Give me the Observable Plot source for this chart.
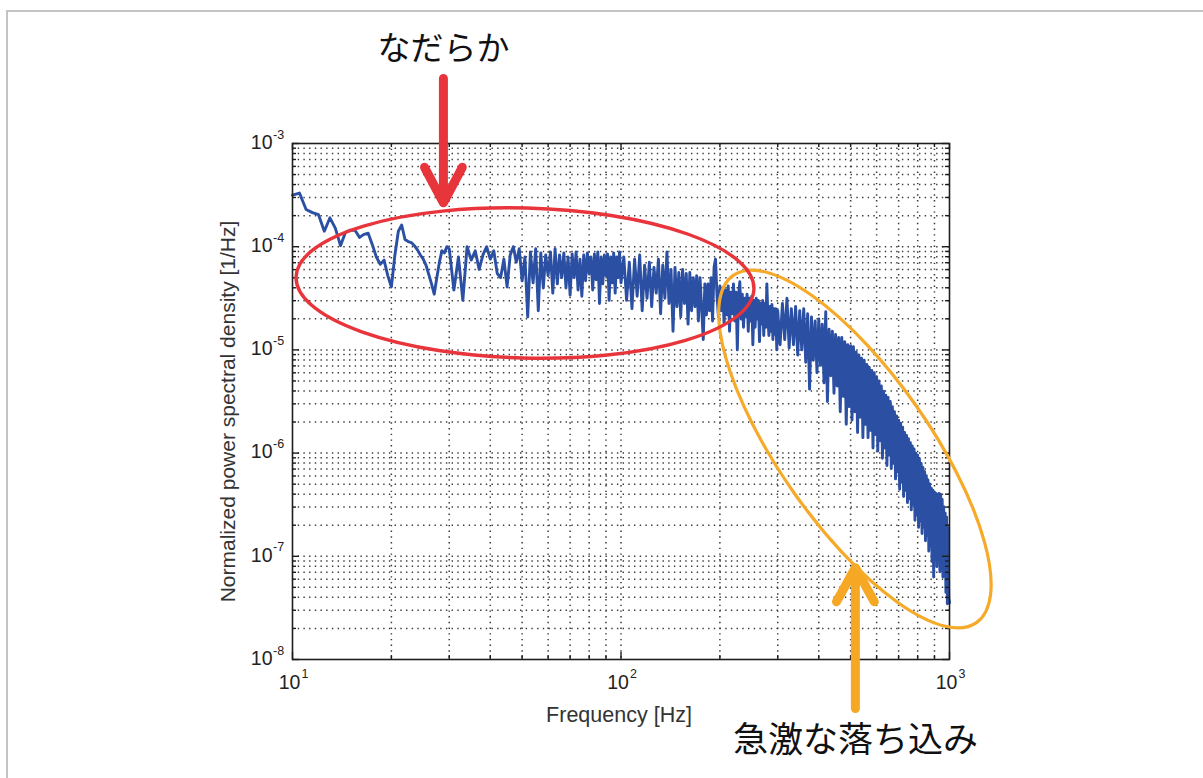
<!DOCTYPE html>
<html><head><meta charset="utf-8">
<script src="https://cdn.jsdelivr.net/npm/d3@7"></script>
<script src="https://cdn.jsdelivr.net/npm/@observablehq/plot@0.6"></script>
<style>
html,body{margin:0;padding:0;background:#fff;overflow:hidden;}
#chart{position:absolute;left:0;top:0;}
#border{position:absolute;left:6px;top:10px;right:0;bottom:0;border-top:2px solid #c4c4c4;border-left:2px solid #c4c4c4;pointer-events:none;}
</style></head><body>
<div id="chart"></div><div id="border"></div>
<script>
// ---- tick definitions ----
const xMajorTicks = [10, 100, 1000];
const xMajorExp = ["1", "2", "3"];
const xMinorTicks = [20,30,40,50,60,70,80,90,200,300,400,500,600,700,800,900];
const yMajorTicks = [1e-8, 1e-7, 1e-6, 1e-5, 1e-4, 1e-3];
const yMajorExp = ["-8", "-7", "-6", "-5", "-4", "-3"];
const yDecades = [1e-8, 1e-7, 1e-6, 1e-5, 1e-4];
const yMinorMult = [2,3,4,5,6,7,8,9];

// ---- spectrum (log10 of PSD), frequency bins per segment ----
const segA = {start: 10, step: 0.5};   // 10 .. 29.5 Hz
const psdExpA = [-3.50,-3.48,-3.64,-3.67,-3.69,-3.85,-3.72,-3.82,-3.99,-3.86,
 -3.84,-3.84,-3.91,-3.88,-3.87,-3.98,-4.10,-4.17,-4.13,-4.28,
 -4.39,-4.08,-3.85,-3.79,-3.93,-3.95,-3.96,-3.99,-4.03,-4.08,
 -4.12,-4.18,-4.27,-4.36,-4.46,-4.30,-4.15,-4.04,-4.06,-4.00];
const segB = {start: 30, step: 1};     // 30 .. 99 Hz
const psdExpB = [-4.02,-4.42,-4.10,-4.52,-4.00,-4.13,-4.04,-4.22,-4.08,-4.00,
 -4.12,-4.04,-4.26,-4.30,-4.12,-4.39,-4.08,-4.00,-4.15,-4.02,
 -4.33,-4.10,-4.68,-4.05,-4.35,-4.02,-4.62,-4.06,-4.40,-4.08,
 -4.28,-4.05,-4.45,-4.02,-4.36,-4.08,-4.30,-4.06,-4.40,-4.10,
 -4.47,-4.07,-4.30,-4.05,-4.42,-4.12,-4.48,-4.08,-4.33,-4.06,
 -4.26,-4.10,-4.42,-4.07,-4.32,-4.05,-4.55,-4.10,-4.36,-4.08,
 -4.28,-4.07,-4.52,-4.10,-4.35,-4.06,-4.45,-4.10,-4.30,-4.05];
const segC = {start: 100, step: 2};    // 100 .. 298 Hz
const psdExpC = [-4.35,-4.10,-4.52,-4.15,-4.60,-4.12,-4.48,-4.08,-4.62,-4.18,
 -4.50,-4.15,-4.58,-4.20,-4.45,-4.12,-4.65,-4.18,-4.50,-4.05,
 -4.55,-4.22,-4.82,-4.20,-4.58,-4.25,-4.68,-4.22,-4.55,-4.26,
 -4.75,-4.25,-4.62,-4.30,-4.58,-4.28,-4.72,-4.30,-4.60,-4.90,
 -4.36,-4.66,-4.36,-4.62,-4.30,-4.72,-4.20,-4.12,-4.48,-4.68,
 -4.38,-4.62,-4.40,-4.75,-4.42,-4.66,-4.38,-4.82,-4.44,-4.65,
 -4.36,-4.72,-4.44,-5.00,-4.46,-4.34,-4.70,-4.46,-4.78,-4.50,
 -4.68,-4.46,-4.82,-4.50,-4.72,-4.48,-4.95,-4.52,-4.78,-4.50,
 -4.70,-4.52,-4.92,-4.55,-4.75,-4.52,-4.86,-4.55,-4.78,-4.36,
 -4.68,-4.86,-4.58,-4.82,-4.56,-4.90,-4.60,-4.85,-4.60,-5.00];
const segD = {start: 300, step: 5};    // 300 .. 1000 Hz
const psdExpD = [-4.62,-4.95,-4.55,-4.90,-4.50,-4.98,-4.60,-4.95,-4.58,-5.05,
 -4.62,-5.00,-4.60,-5.12,-4.65,-5.38,-4.68,-5.10,-4.72,-5.22,
 -4.70,-5.15,-4.75,-5.32,-4.63,-5.50,-4.80,-5.25,-4.82,-5.42,
 -4.85,-5.35,-4.88,-5.60,-4.88,-5.45,-4.92,-5.72,-4.95,-5.55,
 -4.96,-5.68,-4.97,-5.60,-5.02,-5.80,-5.05,-5.65,-5.08,-5.85,
 -5.10,-5.72,-5.14,-5.85,-5.17,-5.78,-5.20,-5.95,-5.22,-5.82,
 -5.26,-5.98,-5.30,-5.88,-5.35,-6.05,-5.40,-5.95,-5.44,-6.12,
 -5.46,-6.02,-5.50,-6.15,-5.55,-6.10,-5.60,-6.25,-5.64,-6.18,
 -5.68,-6.35,-5.71,-6.28,-5.75,-6.42,-5.80,-6.36,-5.83,-6.48,
 -5.86,-6.44,-5.90,-6.55,-5.93,-6.50,-5.96,-6.65,-6.00,-6.60,
 -6.02,-6.72,-6.06,-6.66,-6.10,-6.78,-6.14,-6.72,-6.18,-6.85,
 -6.22,-6.80,-6.26,-6.95,-6.30,-6.90,-6.34,-7.05,-6.36,-7.20,
 -6.38,-7.00,-6.39,-7.10,-6.40,-7.02,-6.39,-7.15,-6.40,-7.08,
 -6.45,-7.20,-6.52,-7.15,-6.58,-7.35,-6.62,-7.46,-6.72,-7.40,
 -7.45];

// ---- texts ----
const xTitle = "Frequency [Hz]";
const yTitle = "Normalized power spectral density [1/Hz]";
const labelSmooth = "なだらか";
const labelDrop = "急激な落ち込み";

// ---- annotation anchors (data space) ----
const redMark = {freq: 28.8, from: 10 ** -2.37, to: 10 ** -3.575};
const orangeMark = {freq: 517, from: 10 ** -8.475, to: 10 ** -7.11};
const redRing = {freq: 51.2, psd: 10 ** -4.357};
const orangeRing = {freq: 517, psd: 10 ** -5.965};

const spectrum = [];
for (const [seg, vals] of [[segA, psdExpA], [segB, psdExpB], [segC, psdExpC], [segD, psdExpD]]) {
  vals.forEach((e, i) => spectrum.push({f: seg.start + i * seg.step, p: 10 ** e}));
}
const yMinorTicks = yDecades.flatMap(d => yMinorMult.map(m => m * d));
const xGrid = [...xMinorTicks, 100];
const yGrid = [...yMinorTicks, 1e-7, 1e-6, 1e-5, 1e-4];

const W = 1203, H = 778, mL = 292, mR = 254, mT = 143, mB = 119;
const iw = W - mL - mR, ih = H - mT - mB;
const gridStyle = {stroke: "#3a3a3a", strokeWidth: 1.5, strokeDasharray: "1.4,4.3"};
const tickFont = "'Liberation Sans', Arial, Helvetica, sans-serif";
const jpFont = "'Noto Sans CJK JP', sans-serif";
const ink = "#1e1e1e";

const plot = Plot.plot({
  width: W, height: H,
  marginLeft: mL, marginRight: mR, marginTop: mT, marginBottom: mB,
  x: {type: "log", domain: [10, 1000], axis: null},
  y: {type: "log", domain: [1e-8, 1e-3], axis: null},
  style: {fontFamily: tickFont, background: "transparent", overflow: "visible"},
  marks: [
    Plot.ruleX(xGrid, {x: d => d, ...gridStyle}),
    Plot.ruleY(yGrid, {y: d => d, ...gridStyle}),
    Plot.line(spectrum, {x: "f", y: "p", stroke: "#2b4fa3", strokeWidth: 2.9, strokeLinejoin: "round"}),
    Plot.frame({stroke: ink, strokeWidth: 1.6}),
    // inward ticks
    Plot.ruleX(xMajorTicks, {x: d => d, insetTop: ih - 7, stroke: ink, strokeWidth: 1.4}),
    Plot.ruleX(xMajorTicks, {x: d => d, insetBottom: ih - 7, stroke: ink, strokeWidth: 1.4}),
    Plot.ruleX(xMinorTicks, {x: d => d, insetTop: ih - 4, stroke: ink, strokeWidth: 1.4}),
    Plot.ruleX(xMinorTicks, {x: d => d, insetBottom: ih - 4, stroke: ink, strokeWidth: 1.4}),
    Plot.ruleY(yMajorTicks, {y: d => d, insetRight: iw - 7, stroke: ink, strokeWidth: 1.4}),
    Plot.ruleY(yMajorTicks, {y: d => d, insetLeft: iw - 7, stroke: ink, strokeWidth: 1.4}),
    Plot.ruleY(yMinorTicks, {y: d => d, insetRight: iw - 4, stroke: ink, strokeWidth: 1.4}),
    Plot.ruleY(yMinorTicks, {y: d => d, insetLeft: iw - 4, stroke: ink, strokeWidth: 1.4}),
    // tick labels
    Plot.text(xMajorTicks, {x: d => d, frameAnchor: "bottom", text: () => "10", dx: -3, dy: 23, fontSize: 19.5, textAnchor: "middle", lineAnchor: "middle", fill: "#222"}),
    Plot.text(xMajorTicks, {x: d => d, frameAnchor: "bottom", text: (d, i) => xMajorExp[i], dx: 9, dy: 14, fontSize: 12.5, textAnchor: "start", lineAnchor: "middle", fill: "#222"}),
    Plot.text(yMajorTicks, {y: d => d, frameAnchor: "left", text: () => "10", dx: -20, dy: -1, fontSize: 19.5, textAnchor: "end", lineAnchor: "middle", fill: "#222"}),
    Plot.text(yMajorTicks, {y: d => d, frameAnchor: "left", text: (d, i) => yMajorExp[i], dx: -19.5, dy: -9, fontSize: 12.5, textAnchor: "start", lineAnchor: "middle", fill: "#222"}),
    // axis titles
    Plot.text([xTitle], {frameAnchor: "bottom", text: d => d, dx: -2, dy: 56, fontSize: 21.5, textAnchor: "middle", lineAnchor: "middle", fill: "#333"}),
    Plot.text([yTitle], {frameAnchor: "left", text: d => d, rotate: -90, dx: -64, dy: 10, fontSize: 21, textAnchor: "middle", lineAnchor: "middle", fill: "#333"}),
    // annotations
    Plot.arrow([redMark], {x1: "freq", x2: "freq", y1: "from", y2: "to", stroke: "#e8343b", strokeWidth: 9, headLength: 6.7, headAngle: 56, strokeLinecap: "round", strokeLinejoin: "round"}),
    Plot.arrow([orangeMark], {x1: "freq", x2: "freq", y1: "from", y2: "to", stroke: "#f6a724", strokeWidth: 9, headLength: 6.5, headAngle: 58, strokeLinecap: "round", strokeLinejoin: "round"}),
    Plot.text([labelSmooth], {x: () => redMark.freq, frameAnchor: "top", text: d => d, dy: -94, fontSize: 33, fontFamily: jpFont, textAnchor: "middle", lineAnchor: "middle", fill: "#111"}),
    Plot.text([labelDrop], {x: () => orangeMark.freq, frameAnchor: "bottom", text: d => d, dy: 81, fontSize: 35, fontFamily: jpFont, textAnchor: "middle", lineAnchor: "middle", fill: "#111"})
  ]
});

// ellipses drawn with the plot's own scales
const sx = plot.scale("x"), sy = plot.scale("y");
const svg = d3.select(plot);
const oc = [sx.apply(orangeRing.freq), sy.apply(orangeRing.psd)];
svg.append("ellipse").attr("cx", oc[0]).attr("cy", oc[1]).attr("rx", 212).attr("ry", 75)
  .attr("transform", `rotate(55 ${oc[0]} ${oc[1]})`)
  .attr("fill", "none").attr("stroke", "#f6aa2a").attr("stroke-width", 3.2);
const rc = [sx.apply(redRing.freq), sy.apply(redRing.psd)];
svg.append("ellipse").attr("cx", rc[0]).attr("cy", rc[1]).attr("rx", 229).attr("ry", 75)
  .attr("transform", `rotate(1.5 ${rc[0]} ${rc[1]})`)
  .attr("fill", "none").attr("stroke", "#e8343b").attr("stroke-width", 3.4);

document.getElementById("chart").appendChild(plot);
</script></body></html>
